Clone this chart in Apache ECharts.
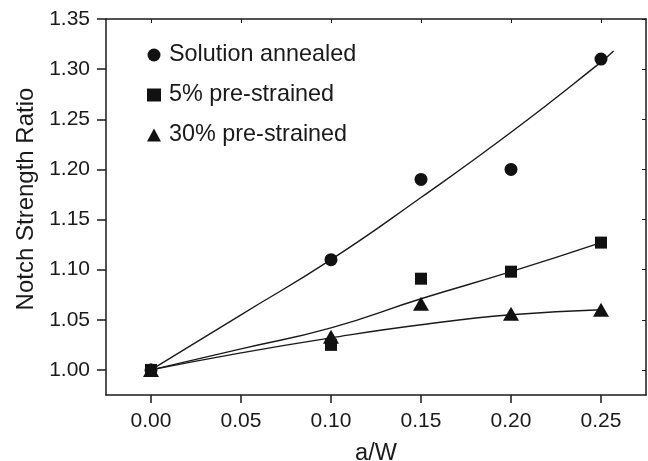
<!DOCTYPE html>
<html>
<head>
<meta charset="utf-8">
<script src="https://cdn.jsdelivr.net/npm/echarts@6/dist/echarts.min.js"></script>
<style>
html,body{margin:0;padding:0;background:#fff;overflow:hidden;}
#chart{width:648px;height:461px;}
</style>
</head>
<body>
<div id="chart"></div>
<script>
// Measured points
var xPoints = [0.00, 0.10, 0.15, 0.20, 0.25];
var annealed = [1.00, 1.11, 1.19, 1.20, 1.31];
var pre5 = [1.00, 1.025, 1.091, 1.098, 1.127];
var pre30 = [1.00, 1.033, 1.066, 1.056, 1.06];

// Fitted curves
var fitXAnnealed = [0.00, 0.05, 0.10, 0.15, 0.20, 0.25, 0.257];
var fitAnnealed = [1.00, 1.055, 1.11, 1.172, 1.237, 1.307, 1.318];
var fitX = [0.00, 0.05, 0.10, 0.15, 0.20, 0.25];
var fitPre5 = [1.00, 1.021, 1.042, 1.071, 1.098, 1.127];
var fitPre30 = [1.00, 1.017, 1.032, 1.045, 1.055, 1.06];

// Tick labels
var xTicks = [0.00, 0.05, 0.10, 0.15, 0.20, 0.25];
var yTicks = [1.00, 1.05, 1.10, 1.15, 1.20, 1.25, 1.30, 1.35];

var seriesNames = ['Solution annealed', '5% pre-strained', '30% pre-strained'];

function pairs(xs, ys) { return xs.map(function (x, i) { return [x, ys[i]]; }); }

var FONT = "'Liberation Sans', Arial, Helvetica, sans-serif";
var INK = '#1a1a1a';

var chart = echarts.init(document.getElementById('chart'), null, {renderer: 'canvas'});

var lineStyleAxis = {color: INK, width: 1.5};

chart.setOption({
  animation: false,
  backgroundColor: '#ffffff',
  grid: {left: 106, right: 2, top: 19, bottom: 66, containLabel: false, outerBoundsMode: 'none'},
  legend: {
    orient: 'vertical',
    left: 147,
    top: 42,
    padding: 0,
    itemWidth: 14,
    itemHeight: 13,
    itemGap: 14,
    selectedMode: false,
    data: [
      {name: seriesNames[0], icon: 'circle'},
      {name: seriesNames[1], icon: 'rect'},
      {name: seriesNames[2], icon: 'triangle'}
    ],
    textStyle: {fontFamily: FONT, fontSize: 23.4, color: INK, lineHeight: 26, padding: [0, 0, 0, 3]}
  },
  xAxis: [
    {
      type: 'value', position: 'bottom', min: -0.025, max: 0.275,
      name: 'a/W', nameLocation: 'middle', nameGap: 47,
      nameTextStyle: {fontFamily: FONT, fontSize: 23.5, color: INK},
      axisLine: {show: true, onZero: false, lineStyle: lineStyleAxis},
      axisTick: {show: true, inside: false, length: 8, customValues: xTicks, lineStyle: lineStyleAxis},
      axisLabel: {show: true, customValues: xTicks, margin: 16, fontFamily: FONT, fontSize: 21, color: INK,
        formatter: function (v) { return v.toFixed(2); }},
      splitLine: {show: false}
    },
    {
      type: 'value', position: 'top', min: -0.025, max: 0.275,
      axisLine: {show: true, onZero: false, lineStyle: lineStyleAxis},
      axisTick: {show: true, inside: true, length: 4, customValues: xTicks, lineStyle: {color: INK, width: 1}},
      axisLabel: {show: false},
      splitLine: {show: false}
    }
  ],
  yAxis: [
    {
      type: 'value', position: 'left', min: 0.975, max: 1.35,
      name: 'Notch Strength Ratio', nameLocation: 'middle', nameGap: 68,
      nameTextStyle: {fontFamily: FONT, fontSize: 24, color: INK, padding: [0, 0, 0, 16]},
      axisLine: {show: true, onZero: false, lineStyle: lineStyleAxis},
      axisTick: {show: true, inside: false, length: 9, customValues: yTicks, lineStyle: lineStyleAxis},
      axisLabel: {show: true, customValues: yTicks, margin: 16, fontFamily: FONT, fontSize: 21, color: INK,
        formatter: function (v) { return v.toFixed(2); }},
      splitLine: {show: false}
    },
    {
      type: 'value', position: 'right', min: 0.975, max: 1.35,
      axisLine: {show: true, onZero: false, lineStyle: lineStyleAxis},
      axisTick: {show: true, inside: true, length: 4, customValues: yTicks, lineStyle: {color: INK, width: 1}},
      axisLabel: {show: false},
      splitLine: {show: false}
    }
  ],
  series: [
    {type: 'line', data: pairs(fitXAnnealed, fitAnnealed), smooth: true, showSymbol: false, symbol: 'none',
      lineStyle: {color: INK, width: 1.4}, z: 2, silent: true},
    {type: 'line', data: pairs(fitX, fitPre5), smooth: true, showSymbol: false, symbol: 'none',
      lineStyle: {color: INK, width: 1.4}, z: 2, silent: true},
    {type: 'line', data: pairs(fitX, fitPre30), smooth: true, showSymbol: false, symbol: 'none',
      lineStyle: {color: INK, width: 1.4}, z: 2, silent: true},
    {name: seriesNames[0], type: 'scatter', data: pairs(xPoints, annealed), symbol: 'circle', symbolSize: 13,
      itemStyle: {color: '#111', opacity: 1}, z: 5},
    {name: seriesNames[1], type: 'scatter', data: pairs(xPoints, pre5), symbol: 'rect', symbolSize: 12,
      itemStyle: {color: '#111', opacity: 1}, z: 6},
    {name: seriesNames[2], type: 'scatter', data: pairs(xPoints, pre30), symbol: 'triangle', symbolSize: [16, 14],
      itemStyle: {color: '#111', opacity: 1}, z: 7}
  ]
});
</script>
</body>
</html>
